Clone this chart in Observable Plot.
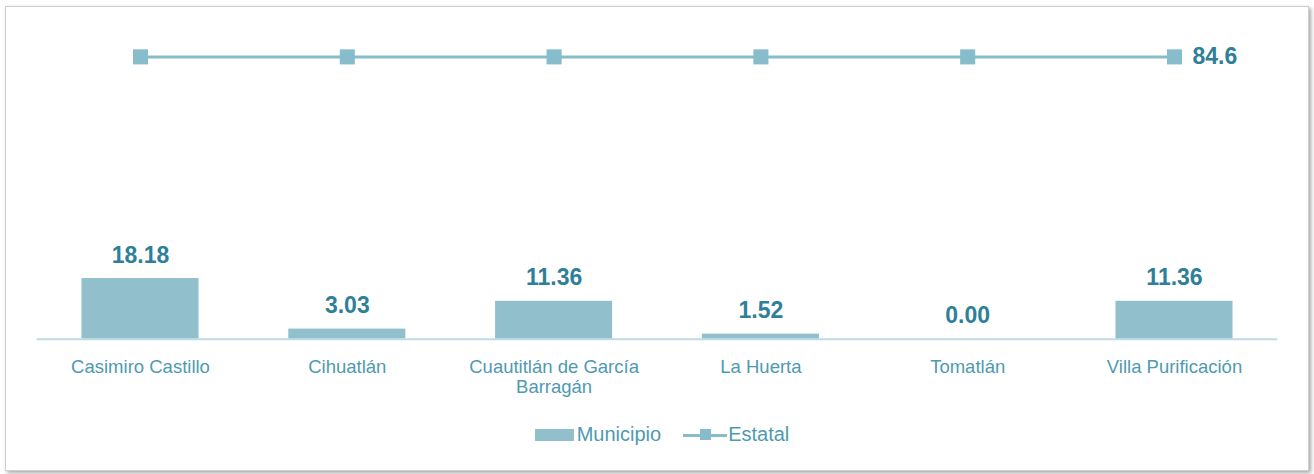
<!DOCTYPE html>
<html>
<head>
<meta charset="utf-8">
<script src="https://cdn.jsdelivr.net/npm/d3@7"></script>
<script src="https://cdn.jsdelivr.net/npm/@observablehq/plot@0.6"></script>
<style>
  html, body { margin: 0; padding: 0; background: #fff; }
  #wrap { position: relative; width: 1314px; height: 474px; overflow: hidden; font-family: "Liberation Sans", Arial, sans-serif; }
  #frame { position: absolute; left: 5px; top: 6px; width: 1302px; height: 463px; border: 1px solid #cfcfcf; box-shadow: 2px 2px 4px rgba(0,0,0,0.35); background: #fff; }
  #chart { position: absolute; left: 0; top: 0; }
  #legend { position: absolute; top: 423px; left: 0; width: 1314px; box-sizing: border-box; padding-left: 10px; display: flex; justify-content: center; align-items: center; gap: 22px; font-size: 20px; color: #4e9ab0; }
  .item { display: flex; align-items: center; }
  .sw-bar { width: 39px; height: 12px; background: #92bfcc; margin-right: 3px; }
  .sw-line { position: relative; width: 44px; height: 12px; margin-right: 1px; }
  .sw-line::before { content: ""; position: absolute; left: 0; right: 0; top: 5px; height: 3px; background: #87bccb; }
  .sw-line::after { content: ""; position: absolute; left: 17px; top: 0px; width: 11px; height: 11px; background: #87bccb; }
</style>
</head>
<body>
<div id="wrap">
  <div id="frame"></div>
  <div id="chart"></div>
  <div id="legend">
    <div class="item"><span class="sw-bar"></span><span>Municipio</span></div>
    <div class="item"><span class="sw-line"></span><span>Estatal</span></div>
  </div>
</div>
<script>
const categories = ["Casimiro Castillo", "Cihuatlán", "Cuautitlán de García Barragán", "La Huerta", "Tomatlán", "Villa Purificación"];
const tickLabels = ["Casimiro Castillo", "Cihuatlán", "Cuautitlán de García\nBarragán", "La Huerta", "Tomatlán", "Villa Purificación"];
const municipio = [18.18, 3.03, 11.36, 1.52, 0.00, 11.36];
const estatal = [84.6, 84.6, 84.6, 84.6, 84.6, 84.6];

const bars = categories.map((c, i) => ({cat: c, value: municipio[i]}));
const line = categories.map((c, i) => ({cat: c, value: estatal[i]}));
const labelOf = new Map(categories.map((c, i) => [c, tickLabels[i]]));

const chart = Plot.plot({
  width: 1314,
  height: 420,
  marginLeft: 36.6,
  marginRight: 36.6,
  marginTop: 20,
  marginBottom: 81.3,
  style: {fontFamily: "'Liberation Sans', Arial, sans-serif", background: "transparent", overflow: "visible"},
  x: {domain: categories, paddingInner: 0.434, paddingOuter: 0.217, round: false, label: null},
  y: {domain: [0, 95.5], axis: null},
  marks: [
    Plot.barY(bars, {x: "cat", y: "value", fill: "#92bfcc"}),
    Plot.ruleY([0], {stroke: "#bcdbe4", strokeWidth: 2}),
    Plot.text(bars, {x: "cat", y: "value", text: d => d.value.toFixed(2), dy: -16, lineAnchor: "bottom", fill: "#2f7f99", fontSize: 23, fontWeight: "bold"}),
    Plot.lineY(line, {x: "cat", y: "value", stroke: "#87bccb", strokeWidth: 3}),
    Plot.dot(line, {x: "cat", y: "value", symbol: "square", r: 8.5, fill: "#87bccb", stroke: "none"}),
    Plot.text(line.slice(-1), {x: "cat", y: "value", text: d => d.value.toFixed(1), dx: 18, textAnchor: "start", lineAnchor: "middle", fill: "#2f7f99", fontSize: 23, fontWeight: "bold"}),
    Plot.axisX({tickSize: 0, tickPadding: 19.5, tickFormat: d => labelOf.get(d), fontSize: 18.5, fill: "#4e9ab0", lineHeight: 1.08, label: null})
  ]
});
document.getElementById("chart").appendChild(chart);
</script>
</body>
</html>
